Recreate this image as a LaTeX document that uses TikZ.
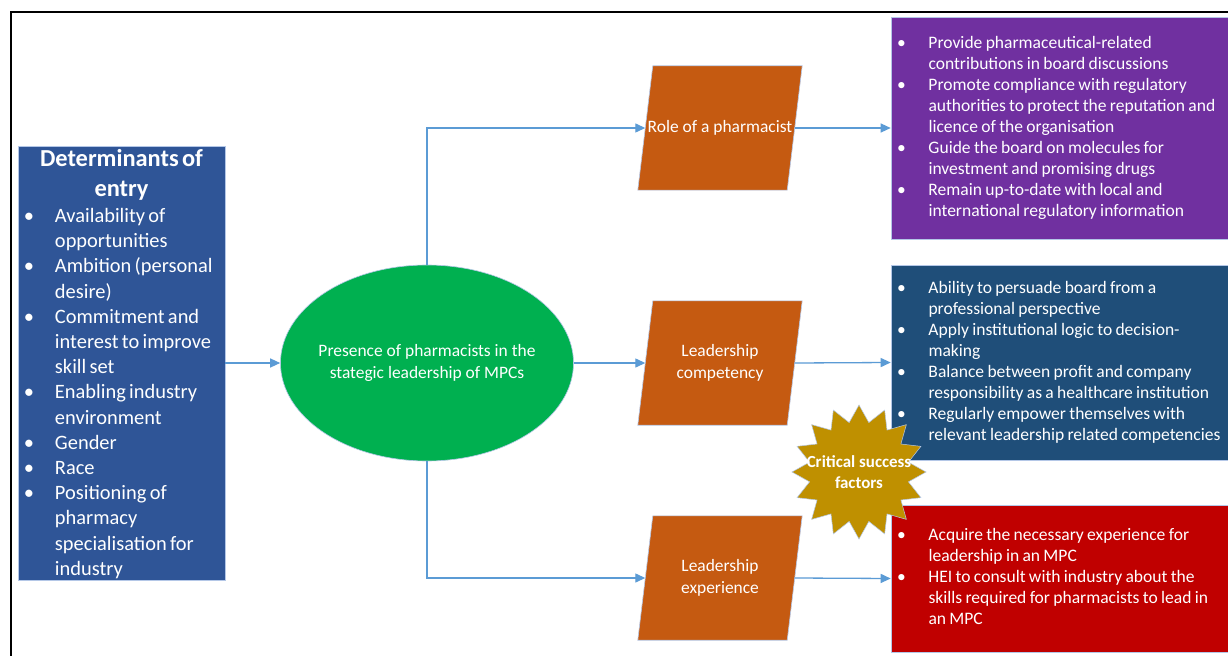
\documentclass[tikz,border=0pt]{standalone}
\usepackage{fontspec}
\setmainfont{Carlito}
\usetikzlibrary{shapes.geometric,arrows.meta,backgrounds}
\setlength\parindent{0pt}
\definecolor{detblue}{HTML}{2F5597}
\definecolor{ellgreen}{HTML}{00B050}
\definecolor{parorange}{HTML}{C55A11}
\definecolor{rolepurple}{HTML}{7030A0}
\definecolor{compblue}{HTML}{1F4E79}
\definecolor{expred}{HTML}{C00000}
\definecolor{stargold}{HTML}{BF9000}
\definecolor{arrblue}{HTML}{5B9BD5}
\definecolor{edge}{HTML}{B4C7E7}
\newcommand\bb[2]{\makebox[#1][l]{\hspace{#2}\textbullet}}
\tikzset{
  x=1bp, y=-1bp,
  arr/.style={draw=arrblue, line width=1.3bp, -{Triangle[length=10bp,width=9bp]}},
  box/.style={rectangle, inner sep=0pt, text=white, draw=edge, line width=0.6bp, align=left},
  rbox/.style={box, minimum width=340bp, text width=340bp},
  parbox/.style={rectangle, inner sep=0pt, minimum width=149bp, minimum height=124bp, text=white, align=center, font=\fontsize{17.5}{21.5}\selectfont},
  parfill/.style={fill=parorange, draw=edge, line width=0.6bp},
  ellshape/.style={ellipse, fill=ellgreen, draw=edge, line width=0.6bp, minimum width=293bp, minimum height=196bp, inner sep=0pt},
  plain/.style={inner sep=0pt, text=white, align=center},
  starshape/.style={star, star points=16, star point ratio=1.33, minimum size=134bp, inner sep=0pt, fill=stargold, draw=edge, line width=0.5bp},
}
\begin{document}
\begin{tikzpicture}
\useasboundingbox (0,0) rectangle (1228,656);
\begin{scope}[on background layer]
\fill[white] (0,0) rectangle (1228,656);
\end{scope}
\draw[line width=2bp] (10.7,700) |- (1260,12.3);

% left box
\node[box, fill=detblue, minimum width=207bp, minimum height=434bp, text width=207bp] (det) at (121.5,363) {%
{\centering\bfseries\fontsize{24.5}{30}\selectfont Determinants of\\ entry\par}\vspace{1bp}%
\fontsize{20.5}{25.3}\selectfont
\begin{tabular}[t]{@{}l@{}l@{}}
\bb{37bp}{6bp} & Availability of\\
 & opportunities\\
\bb{37bp}{6bp} & Ambition (personal\\
 & desire)\\
\bb{37bp}{6bp} & Commitment and\\
 & interest to improve\\
 & skill set\\
\bb{37bp}{6bp} & Enabling industry\\
 & environment\\
\bb{37bp}{6bp} & Gender\\
\bb{37bp}{6bp} & Race\\
\bb{37bp}{6bp} & Positioning of\\
 & pharmacy\\
 & specialisation for\\
 & industry
\end{tabular}\par\vspace{-6bp}};

% ellipse
\node[ellshape] (ell) at (427,363) {};
\node[plain, font=\fontsize{17.5}{22}\selectfont] (elltxt) at (ell.center) {Presence of pharmacists in the\\ stategic leadership of MPCs};

% parallelograms
\node[parbox] (p1) at (720,128) {Role of a pharmacist};
\node[parbox] (p2) at (720,363) {\rule{0pt}{3bp}Leadership\\ competency};
\node[parbox] (p3) at (720,578) {\rule{0pt}{3bp}Leadership\\ experience};
\begin{scope}[on background layer]
\foreach \p in {p1,p2,p3}{
  \path[parfill] ([xshift=-7.5bp]\p.south west) -- ([xshift=-7.5bp]\p.south east)
     -- ([xshift=7.5bp]\p.north east) -- ([xshift=7.5bp]\p.north west) -- cycle;
}
\end{scope}

% right boxes
\node[rbox, fill=rolepurple, minimum height=222bp] (role) at (1061,128) {%
\fontsize{17.6}{21.1}\selectfont
\begin{tabular}{@{}l@{}l@{}}
\bb{37.5bp}{6bp} & Provide pharmaceutical-related\\
 & contributions in board discussions\\
\bb{37.5bp}{6bp} & Promote compliance with regulatory\\
 & authorities to protect the reputation and\\
 & licence of the organisation\\
\bb{37.5bp}{6bp} & Guide the board on molecules for\\
 & investment and promising drugs\\
\bb{37.5bp}{6bp} & Remain up-to-date with local and\\
 & international regulatory information
\end{tabular}};

\node[rbox, fill=compblue, minimum height=195bp] (comp) at (1061,362.5) {%
\fontsize{17.6}{21.1}\selectfont
\begin{tabular}{@{}l@{}l@{}}
\bb{37.5bp}{6bp} & Ability to persuade board from a\\
 & professional perspective\\
\bb{37.5bp}{6bp} & Apply institutional logic to decision-\\
 & making\\
\bb{37.5bp}{6bp} & Balance between profit and company\\
 & responsibility as a healthcare institution\\
\bb{37.5bp}{6bp} & Regularly empower themselves with\\
 & relevant leadership related competencies
\end{tabular}};

\node[rbox, fill=expred, minimum height=147bp] (exp) at (1061,578.5) {%
\fontsize{17.6}{21.1}\selectfont
\begin{tabular}{@{}l@{}l@{}}
\bb{37.5bp}{6bp} & Acquire the necessary experience for\\
 & leadership in an MPC\\
\bb{37.5bp}{6bp} & HEI to consult with industry about the\\
 & skills required for pharmacists to lead in\\
 & an MPC
\end{tabular}};

% star
\node[starshape] (star) at (859,472) {};
\node[plain, font=\bfseries\fontsize{17}{21}\selectfont] (startxt) at (star.center) {Critical success\\ factors};

% connectors
\draw[arr] (det.east) -- (ell.west);
\draw[arr] (ell.north) |- (p1.west);
\draw[arr] (ell.east) -- (p2.west);
\draw[arr] (ell.south) |- (p3.west);
\draw[arr] (p1.east) -- (role.west);
\draw[arr] (p2.east) -- (comp.west);
\draw[arr] (p3.east) -- (exp.west);
\end{tikzpicture}
\end{document}
